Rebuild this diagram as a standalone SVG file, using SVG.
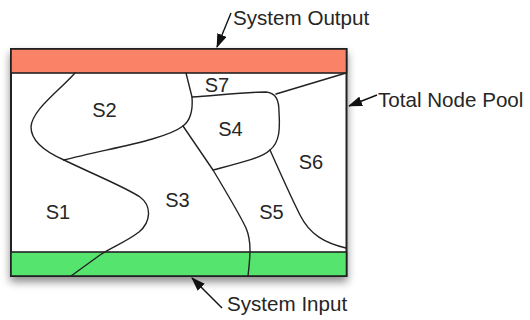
<svg xmlns="http://www.w3.org/2000/svg" width="530" height="320" viewBox="0 0 530 320">
  <style>
    .lbl { font-family: "Liberation Sans", Arial, Helvetica, sans-serif; font-size: 20px; fill: #262626; }
    .big { font-size: 20.6px; }
    .mid { text-anchor: middle; }
    .part { fill: none; stroke: #222; stroke-width: 1.4; stroke-linecap: round; stroke-linejoin: round; }
    .call { fill: none; stroke: #111; stroke-width: 1.4; marker-end: url(#head); }
  </style>
  <defs>
    <filter id="shadow" x="-10%" y="-10%" width="120%" height="130%">
      <feDropShadow dx="0" dy="5" stdDeviation="4" flood-color="#000" flood-opacity="0.45"/>
    </filter>
    <marker id="head" viewBox="0 0 14 10" refX="13" refY="5" markerWidth="14" markerHeight="10" markerUnits="userSpaceOnUse" orient="auto">
      <path d="M0,0 L14,5 L0,10 Z" fill="#111"/>
    </marker>
  </defs>

  <!-- pool container -->
  <g id="pool">
    <rect x="11" y="49" width="335.5" height="227" fill="#fff" stroke="#222" stroke-width="2" filter="url(#shadow)"/>
  </g>

  <!-- output band -->
  <g id="output">
    <rect x="11" y="49" width="335.5" height="24" fill="#fa8266" stroke="#222" stroke-width="1.6"/>
  </g>

  <!-- input band -->
  <g id="input">
    <rect x="11" y="252" width="335.5" height="24" fill="#55e46e" stroke="#222" stroke-width="1.6"/>
  </g>

  <!-- partition boundaries between subsets -->
  <g id="boundaries">
    <path class="part" d="M75,73 C 58,92 32,110 31,127 C 31,142 48,153 64,160"/>
    <path class="part" d="M64,160 C 110,148 165,140 183,126"/>
    <path class="part" d="M186,73 L192,97 C 193,110 191,120 183,126"/>
    <path class="part" d="M64,160 C 95,175 125,187 140,197 C 152,206 151,222 139,232 C 126,242 112,247 100,255 L 71,276"/>
    <path class="part" d="M183,126 L213,170 C 228,195 240,215 246,228 C 252,242 250,258 248,276"/>
    <path class="part" d="M192,97 C 220,95 250,92 266,92 C 276,93 279,100 279,112 C 280,128 280,142 270,150 C 262,158 240,163 213,170"/>
    <path class="part" d="M276,94 L346,73"/>
    <path class="part" d="M270,150 C 278,168 290,195 300,215 C 310,235 325,243 346,248"/>
  </g>

  <!-- subset labels -->
  <g id="S1"><text class="lbl mid" x="58" y="219">S1</text></g>
  <g id="S2"><text class="lbl mid" x="104.5" y="117">S2</text></g>
  <g id="S3"><text class="lbl mid" x="177.5" y="207">S3</text></g>
  <g id="S4"><text class="lbl mid" x="230.5" y="136">S4</text></g>
  <g id="S5"><text class="lbl mid" x="271.5" y="219">S5</text></g>
  <g id="S6"><text class="lbl mid" x="311" y="169">S6</text></g>
  <g id="S7"><text class="lbl mid" x="217" y="91.5">S7</text></g>

  <!-- callouts -->
  <g id="callouts">
    <path class="call" d="M231,13 L217,47"/>
    <path class="call" d="M377,95 L349,106"/>
    <path class="call" d="M222,308 L192,278"/>
  </g>
  <g id="label-output"><text class="lbl big" x="233" y="25">System Output</text></g>
  <g id="label-pool"><text class="lbl big" x="378" y="106.5">Total Node Pool</text></g>
  <g id="label-input"><text class="lbl big" x="227" y="311">System Input</text></g>
</svg>
